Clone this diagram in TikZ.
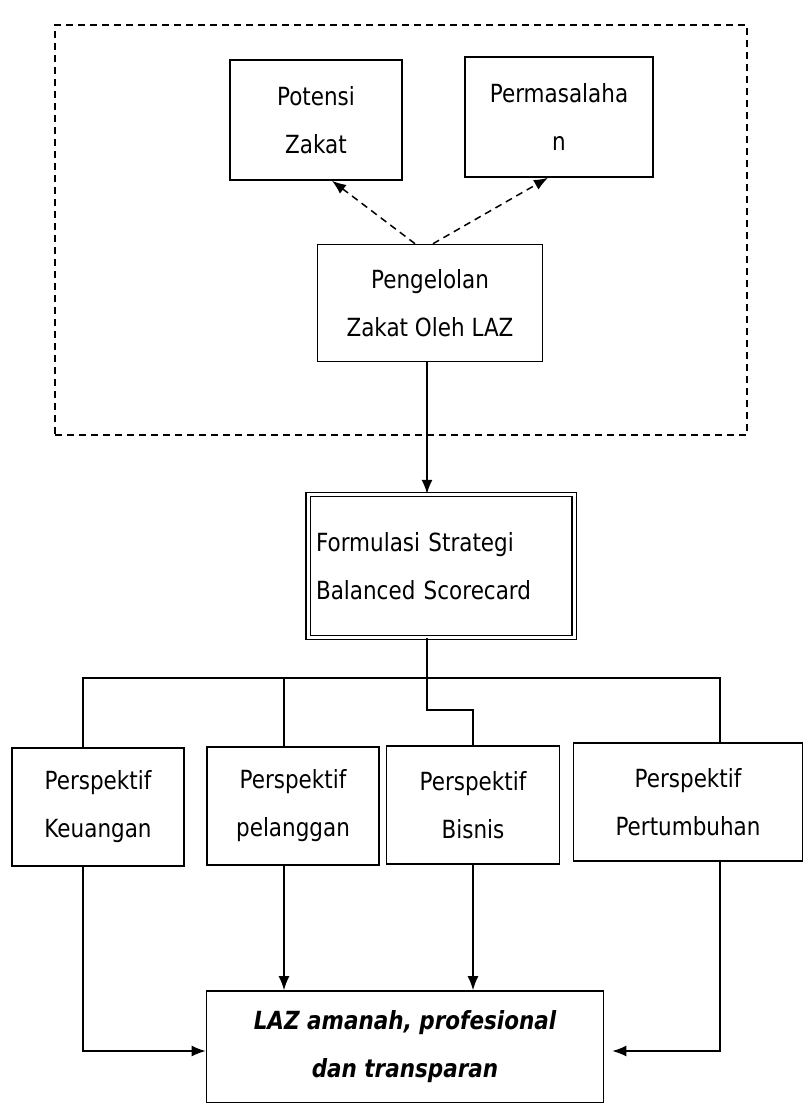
\documentclass[tikz,border=0pt]{standalone}
\usepackage{fontspec}
\setmainfont{DejaVu Sans}[FakeStretch=0.86]
\usetikzlibrary{positioning,calc,arrows.meta}

\begin{document}
\begin{tikzpicture}[
  x=1pt,y=-1pt,
  font=\fontsize{25}{48}\selectfont,
  every node/.style={draw,line width=1.6pt,align=center,inner sep=0pt},
  every path/.style={line width=1.5pt,>={Latex[length=14pt,width=11pt]}},
  dashframe/.style={dash pattern=on 7pt off 5pt,line width=1.4pt},
  dasharrow/.style={->,dash pattern=on 7pt off 5pt},
  row/.style={minimum width=172,minimum height=118},
  ]
  \useasboundingbox (0,0) rectangle (806,1103);
  \node[dashframe,minimum width=692,minimum height=410] (zone) at (401,230) {};
  \node[minimum width=172,minimum height=120] (potensi) at (316,120) {Potensi\\Zakat};
  \node[minimum width=188,minimum height=120] (masalah) at (559,117) {Permasalaha\\n};
  \node[minimum width=225,minimum height=117] (kelola) at (430,303) {Pengelolan\\Zakat Oleh LAZ};
  \node[double,double distance=3pt,line width=1.3pt,minimum width=266,minimum height=143,
    text width=250,align=left] (formulasi) at (441,566) {Formulasi Strategi\\Balanced Scorecard};
  \node[row] (keuangan) at (98,807) {Perspektif\\Keuangan};
  \node[row] (pelanggan) at (293,806) {Perspektif\\pelanggan};
  \node[row,minimum width=173] (bisnis) at (473,805) {Perspektif\\Bisnis};
  \node[row,minimum width=229] (tumbuh) at (688,802) {Perspektif\\Pertumbuhan};
  \node[minimum width=397,minimum height=112,font=\fontsize{25}{48}\selectfont\bfseries\itshape]
    (laz) at (405,1047) {LAZ amanah, profesional\\dan transparan};
  \coordinate (bus) at (0,678);
  \coordinate (jog) at (0,710);
  \path[draw]
  ([xshift=-15]kelola.north) edge[dasharrow] ([xshift=16]potensi.south)
  ([xshift=3]kelola.north) edge[dasharrow] ([xshift=-11]masalah.south)
  (kelola.south -| 427,0) edge[->] (formulasi.north -| 427,0);
  \draw (keuangan.north -| 83,0) |- (bus -| 720,0) -- (tumbuh.north -| 720,0);
  \draw (pelanggan.north -| 284,0) -- (bus -| 284,0);
  \draw (formulasi.south -| 427,0) |- (jog -| bisnis.north) -- (bisnis.north);
  \draw[->] (keuangan.south -| 83,0) |- ([yshift=-4]laz.west);
  \draw[->] (pelanggan.south -| 284,0) -- (laz.north -| 284,0);
  \draw[->] (bisnis.south) -- (bisnis.south |- laz.north);
  \draw[->,shorten >=8pt] (tumbuh.south -| 720,0) |- ([yshift=-4]laz.east);
\end{tikzpicture}
\end{document}
